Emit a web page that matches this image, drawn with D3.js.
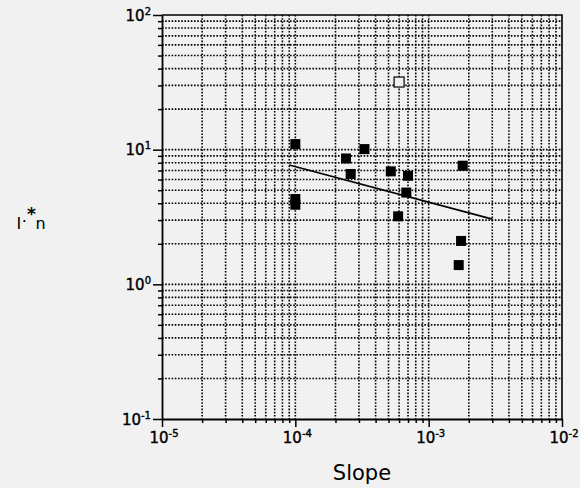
<!DOCTYPE html>
<html><head><meta charset="utf-8">
<script src="https://cdn.jsdelivr.net/npm/d3@7"></script>
<style>html,body{margin:0;background:#f1f1f1;} svg{display:block}</style>
</head><body>
<svg id="chart" width="580" height="488"></svg>
<script>
// Measured points (filled) and the one flagged point (open)
const slopeFilled = [1.0e-4, 1.0e-4, 1.0e-4, 2.4e-4, 3.3e-4, 2.6e-4, 5.2e-4, 7.0e-4, 1.8e-3, 6.8e-4, 5.9e-4, 1.75e-3, 1.68e-3];
const nFilled     = [11.0,   4.3,    3.9,    8.6,    10.1,   6.6,    6.9,    6.4,    7.6,    4.8,    3.2,    2.1,     1.39];
const slopeOpen = [6.0e-4];
const nOpen     = [31.8];
// Fitted trend line end points
const fitSlope = [9e-5, 3e-3];
const fitN     = [7.7, 3.05];
// Decade exponents for the log axes
const xDecades = [-5, -4, -3, -2];
const yDecades = [-1, 0, 1, 2];

const bg = "#f1f1f1";
const svg = d3.select("#chart");
const L = 162, R = 562, T = 15, B = 419;
const x = d3.scaleLog().domain([1e-5, 1e-2]).range([L, R]);
const y = d3.scaleLog().domain([0.1, 100]).range([B, T]);

function minors(decs) {
  const out = [];
  for (let i = 0; i < decs.length - 1; i++)
    for (let m = 2; m <= 9; m++) out.push(m * Math.pow(10, decs[i]));
  return out;
}
const xMajor = xDecades.map(d => Math.pow(10, d));
const yMajor = yDecades.map(d => Math.pow(10, d));
const xMinor = minors(xDecades), yMinor = minors(yDecades);

const font = "DejaVu Sans, Verdana, sans-serif";
const grid = svg.append("g").attr("stroke", "#000").attr("stroke-width", 1.6)
  .attr("stroke-dasharray", "1.6,1.6");
xMinor.concat(xMajor.slice(1, -1)).forEach(v => {
  grid.append("line").attr("x1", x(v)).attr("x2", x(v)).attr("y1", T).attr("y2", B);
});
yMinor.concat(yMajor.slice(1, -1)).forEach(v => {
  grid.append("line").attr("y1", y(v)).attr("y2", y(v)).attr("x1", L).attr("x2", R);
});

// Axes with outward ticks
const xAxis = d3.axisBottom(x).tickValues(xMajor.concat(xMinor)).tickFormat("")
  .tickSizeOuter(0).tickSizeInner(4);
const gx = svg.append("g").attr("transform", `translate(0,${B})`).call(xAxis);
gx.selectAll(".tick line").filter(d => xMajor.includes(d)).attr("y2", 8);
const yAxis = d3.axisLeft(y).tickValues(yMajor.concat(yMinor)).tickFormat("")
  .tickSizeOuter(0).tickSizeInner(4);
const gy = svg.append("g").attr("transform", `translate(${L},0)`).call(yAxis);
gy.selectAll(".tick line").filter(d => yMajor.includes(d)).attr("x2", -9);
[gx, gy].forEach(g => {
  g.select(".domain").attr("stroke", "#000").attr("stroke-width", 1.8);
  g.selectAll(".tick line").attr("stroke", "#000").attr("stroke-width", 1.5);
});
// Top and right frame
svg.append("path").attr("d", `M${L},${T}H${R}V${B}`).attr("fill", "none")
  .attr("stroke", "#000").attr("stroke-width", 1.6);

// Tick labels 10^n
function sup(n) { return n < 0 ? "-" + (-n) : String(n); }
const lab = svg.append("g").attr("font-family", font).attr("font-size", 15)
  .attr("stroke", "#000").attr("stroke-width", 0.4);
xDecades.forEach(d => {
  const t = lab.append("text").attr("x", x(Math.pow(10, d)) + 2).attr("y", 443)
    .attr("text-anchor", "middle");
  t.append("tspan").text("10");
  t.append("tspan").attr("font-size", 10).attr("dy", -6).text(sup(d));
});
yDecades.forEach(d => {
  const t = lab.append("text").attr("x", 151).attr("y", y(Math.pow(10, d)) + 5.5)
    .attr("text-anchor", "end");
  t.append("tspan").text("10");
  t.append("tspan").attr("font-size", 10).attr("dy", -6).text(sup(d));
});

// Axis titles
svg.append("text").attr("x", 362).attr("y", 480).attr("text-anchor", "middle")
  .attr("font-family", font).attr("font-size", 21).text("Slope");
const yt = svg.append("g").attr("font-family", font).attr("font-size", 16);
yt.append("text").attr("x", 16.5).attr("y", 229).text("I");
yt.append("text").attr("x", 24.3).attr("y", 227).attr("text-anchor", "middle").text("·");
yt.append("text").attr("x", 35.5).attr("y", 229).text("n");
yt.append("text").attr("x", 31.5).attr("y", 220).attr("text-anchor", "middle")
  .attr("font-size", 17).attr("font-weight", "bold").text("*");

// Trend line
svg.append("line").attr("x1", x(fitSlope[0])).attr("y1", y(fitN[0]))
  .attr("x2", x(fitSlope[1])).attr("y2", y(fitN[1]))
  .attr("stroke", "#000").attr("stroke-width", 1.6);

// Markers
const s = 10;
svg.append("g").selectAll("rect").data(slopeFilled).join("rect")
  .attr("x", (d) => x(d) - s / 2).attr("y", (d, i) => y(nFilled[i]) - s / 2)
  .attr("width", s).attr("height", s).attr("fill", "#000");
svg.append("g").selectAll("rect").data(slopeOpen).join("rect")
  .attr("x", (d) => x(d) - s / 2).attr("y", (d, i) => y(nOpen[i]) - s / 2)
  .attr("width", s).attr("height", s).attr("fill", bg)
  .attr("stroke", "#000").attr("stroke-width", 1.2);
</script>
</body></html>
